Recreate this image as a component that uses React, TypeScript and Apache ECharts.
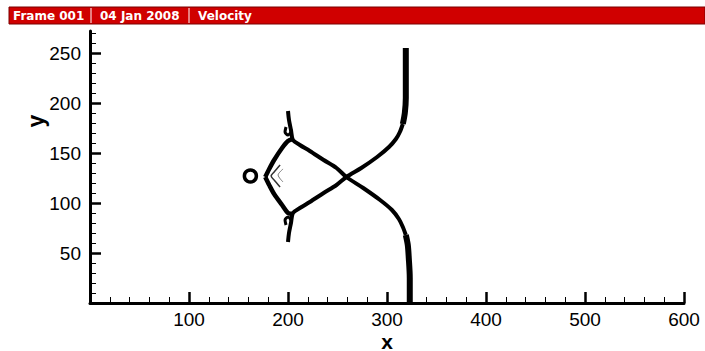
import React, { useEffect, useRef } from "react";
import * as echarts from "echarts";

// Tick values of the two axes
const xMajorTicks = [0, 100, 200, 300, 400, 500, 600];
const xTickLabels = [100, 200, 300, 400, 500, 600];
const yMajorTicks = [0, 50, 100, 150, 200, 250];
const yTickLabels = [50, 100, 150, 200, 250];
const yMinorTicks = [10, 20, 30, 40, 60, 70, 80, 90, 110, 120, 130, 140, 160, 170, 180, 190, 210, 220, 230, 240, 260, 270];

// Velocity contour lines (x, y)
const upperStem = [[319, 255], [319, 228], [319, 205], [318, 190], [316, 179]];
const upperBranch = [
  [316, 179], [313, 171], [309, 164], [302, 156], [290, 146], [274, 135], [259, 126],
  [249, 118], [236, 110], [222, 101], [212, 95], [205, 90], [203, 80], [201, 70], [200, 61],
];
const lowerStem = [[323, 0], [323, 25], [322, 45], [321, 58], [319, 68]];
const lowerBranch = [
  [319, 68], [316, 76], [312, 84], [305, 93], [293, 103], [276, 115], [259, 126],
  [249, 135], [236, 143], [222, 152], [212, 158], [205, 163], [203, 173], [201, 183], [200, 192],
];
const upperEdge = [[177, 126], [181, 134], [186, 143], [194, 155], [200, 162], [205, 164]];
const lowerEdge = [[177, 126], [181, 118], [186, 109], [194, 98], [200, 90], [205, 89]];
const upperBlob = [[198, 176], [197, 171], [200, 168], [203, 171]];
const lowerBlob = [[198, 78], [197, 83], [200, 86], [203, 83]];
const innerContour = [[192, 138], [186, 131], [183, 127], [186, 123], [192, 116]];
const innerContour2 = [[195, 134], [190, 128], [195, 121]];
const cylinder = [[162, 127]];

const line = (data: number[][], width: number, color = "#000") => ({
  type: "line",
  data,
  symbol: "none",
  smooth: 0.3,
  silent: true,
  lineStyle: { color, width, join: "round" },
});

export default function App() {
  const ref = useRef<HTMLDivElement>(null);

  useEffect(() => {
    if (!ref.current) return;
    const chart = echarts.init(ref.current, null, { renderer: "svg" });
    const tickFont = "Arial, 'Liberation Sans', sans-serif";
    chart.setOption({
      animation: false,
      backgroundColor: "#fff",
      grid: { left: 90, right: 21, top: 31, bottom: 48 },
      xAxis: {
        type: "value",
        min: 0,
        max: 600,
        interval: 100,
        axisLine: { show: true, lineStyle: { color: "#000", width: 3 } },
        axisTick: { show: true, inside: true, length: 11, customValues: xMajorTicks, lineStyle: { color: "#000", width: 2.5 } },
        minorTick: { show: true, splitNumber: 5, length: 6, lineStyle: { color: "#000", width: 1 } },
        axisLabel: { customValues: xTickLabels, color: "#000", fontSize: 19, fontFamily: tickFont, margin: 7 },
        splitLine: { show: false },
      },
      yAxis: [
        {
          type: "value",
          min: 0,
          max: 272,
          interval: 50,
          axisLine: { show: true, lineStyle: { color: "#000", width: 3 } },
          axisTick: { show: true, inside: true, length: 11, customValues: yMajorTicks, lineStyle: { color: "#000", width: 2.5 } },
          axisLabel: { customValues: yTickLabels, color: "#000", fontSize: 19, fontFamily: tickFont, margin: 9 },
          splitLine: { show: false },
        },
        {
          type: "value",
          position: "left",
          min: 0,
          max: 272,
          interval: 50,
          axisLine: { show: false },
          axisTick: { show: true, inside: true, length: 6, customValues: yMinorTicks, lineStyle: { color: "#000", width: 1 } },
          axisLabel: { show: false },
          splitLine: { show: false },
        },
      ],
      series: [
        line(upperStem, 6),
        line(upperBranch, 4),
        line(lowerStem, 6),
        line(lowerBranch, 4),
        line(upperEdge, 4.5),
        line(lowerEdge, 4.5),
        line(upperBlob, 3),
        line(lowerBlob, 3),
        line(innerContour, 1.5, "#333"),
        line(innerContour2, 1, "#777"),
        {
          type: "scatter",
          data: cylinder,
          symbol: "circle",
          symbolSize: 12,
          silent: true,
          itemStyle: { color: "#fff", borderColor: "#000", borderWidth: 3.5, opacity: 1 },
        },
      ],
      graphic: [
        {
          type: "rect",
          shape: { x: 9, y: 7, width: 696, height: 17 },
          style: { fill: "#d00000", stroke: "#7a0000", lineWidth: 1 },
          silent: true,
        },
        { type: "line", shape: { x1: 91, y1: 8, x2: 91, y2: 23 }, style: { stroke: "#fff", lineWidth: 1 } },
        { type: "line", shape: { x1: 189, y1: 8, x2: 189, y2: 23 }, style: { stroke: "#fff", lineWidth: 1 } },
        {
          type: "text", x: 13, y: 16,
          style: { text: "Frame 001", fill: "#fff", font: "bold 12px DejaVu Sans, sans-serif", verticalAlign: "middle" },
        },
        {
          type: "text", x: 100, y: 16,
          style: { text: "04 Jan 2008", fill: "#fff", font: "bold 12px DejaVu Sans, sans-serif", verticalAlign: "middle" },
        },
        {
          type: "text", x: 198, y: 16,
          style: { text: "Velocity", fill: "#fff", font: "bold 12px DejaVu Sans, sans-serif", verticalAlign: "middle" },
        },
        {
          type: "text", x: 387, y: 341,
          style: { text: "x", fill: "#000", font: "bold 21px Arial, 'Liberation Sans', sans-serif", align: "center", verticalAlign: "middle" },
        },
        {
          type: "text", x: 36, y: 121, rotation: Math.PI / 2,
          style: { text: "y", fill: "#000", font: "bold 23px Arial, 'Liberation Sans', sans-serif", align: "center", verticalAlign: "middle" },
        },
      ],
    });
    return () => chart.dispose();
  }, []);

  return <div ref={ref} style={{ position: "fixed", left: 0, top: 0, width: 705, height: 351 }} />;
}
